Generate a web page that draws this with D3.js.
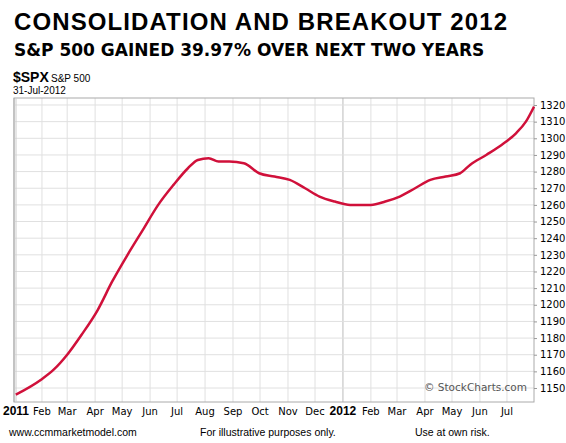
<!DOCTYPE html><html><head><meta charset="utf-8">
<script src="https://cdn.jsdelivr.net/npm/d3@7"></script>
<style>body{margin:0;background:#fff}</style></head><body>
<svg id="c" width="566" height="443"></svg>
<script>
const dates=["2011-01-03","2011-01-31","2011-02-14","2011-03-01","2011-03-17","2011-04-04","2011-04-20","2011-05-07","2011-05-24","2011-06-10","2011-06-27","2011-07-13","2011-07-24","2011-08-05","2011-08-16","2011-08-28","2011-09-13","2011-09-30","2011-10-17","2011-11-03","2011-11-20","2011-12-06","2011-12-23","2012-01-09","2012-02-01","2012-02-17","2012-03-04","2012-03-21","2012-04-07","2012-04-24","2012-05-10","2012-05-21","2012-06-08","2012-06-25","2012-07-11","2012-07-22","2012-07-31"];
const values=[1146,1155,1161,1170,1182,1197,1214,1230,1245,1260,1272,1282,1287,1288,1286,1286,1285,1279,1277,1275,1270,1265,1262,1260,1260,1262,1265,1270,1275,1277,1279,1284,1290,1296,1303,1310,1319];
const yTicks=d3.range(1150,1321,10);
const monthLabels=["2011","Feb","Mar","Apr","May","Jun","Jul","Aug","Sep","Oct","Nov","Dec","2012","Feb","Mar","Apr","May","Jun","Jul"];
const svg=d3.select("#c");
const L=14,R=534,T=98,B=402;
const p=d3.timeParse("%Y-%m-%d");
const x=d3.scaleTime().domain([p("2011-01-01"),p("2012-07-31")]).range([L,R]);
const y=d3.scaleLinear().domain([1141.6,1324.2]).range([B,T]);
const months=d3.timeMonth.range(p("2011-01-01"),p("2012-08-01"));
const g=svg.append("g");
g.selectAll(".v").data(months).join("line").attr("x1",d=>x(d)).attr("x2",d=>x(d)).attr("y1",T).attr("y2",B)
 .attr("stroke",d=>d.getMonth()==0?"#bbb":"#e0e0e0");
g.selectAll(".h").data(yTicks).join("line").attr("x1",L).attr("x2",R).attr("y1",d=>y(d)).attr("y2",d=>y(d)).attr("stroke","#e0e0e0");
svg.append("rect").attr("x",L).attr("y",T).attr("width",R-L).attr("height",B-T).attr("fill","none").attr("stroke","#aaa");
svg.append("line").attr("x1",L+2).attr("x2",L+2).attr("y1",T).attr("y2",B).attr("stroke","#ccc");
svg.append("g").attr("transform",`translate(${R},0)`).call(d3.axisRight(y).tickValues(yTicks).tickSize(3).tickFormat(d3.format("d")))
 .call(a=>{a.select(".domain").remove();a.selectAll("text").attr("font-family","DejaVu Sans").attr("font-size",10).attr("fill","#000");a.selectAll("line").attr("stroke","#999");});
svg.append("g").selectAll("text").data(months).join("text").attr("x",(d,i)=>i==0?x(d)+2:x(d)).attr("y",B+13)
 .attr("text-anchor","middle").attr("font-family",(d,i)=>(i==0||i==12)?"Liberation Sans":"DejaVu Sans").attr("font-weight",(d,i)=>(i==0||i==12)?"bold":"normal")
 .attr("font-size",(d,i)=>(i==0||i==12)?12:10).text((d,i)=>monthLabels[i]);
const data=dates.map((d,i)=>({d:p(d),v:values[i]}));
svg.append("path").datum(data).attr("fill","none").attr("stroke","#d0103a").attr("stroke-width",2.5)
 .attr("d",d3.line().x(d=>x(d.d)).y(d=>y(d.v)).curve(d3.curveMonotoneX));
const t=(x0,y0,s,sz,w,fam,anchor)=>svg.append("text").attr("x",x0).attr("y",y0).text(s).attr("font-size",sz).attr("font-weight",w||"normal").attr("font-family",fam||"DejaVu Sans").attr("text-anchor",anchor||"start");
t(14,30,"CONSOLIDATION AND BREAKOUT 2012",24,"bold","Liberation Sans").attr("letter-spacing",1.1);
t(14,56,"S&P 500 GAINED 39.97% OVER NEXT TWO YEARS",17,"bold","DejaVu Sans");
t(13,82,"$SPX",14,"bold","Liberation Sans");
t(51,82,"S&P 500",10,"normal","Liberation Sans");
t(13,94,"31-Jul-2012",10,"normal","Liberation Sans");
t(527,391,"© StockCharts.com",10.5,"normal","DejaVu Sans","end").attr("fill","#555");
t(9,436,"www.ccmmarketmodel.com",10.5,"normal","Liberation Sans");
t(200,436,"For illustrative purposes only.",10.5,"normal","Liberation Sans");
t(415,436,"Use at own risk.",10.5,"normal","Liberation Sans");
</script></body></html>
